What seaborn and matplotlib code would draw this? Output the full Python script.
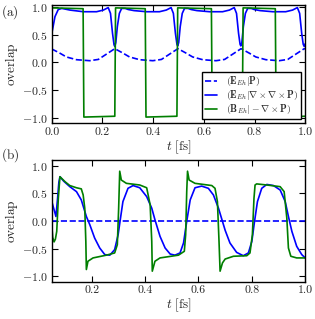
import matplotlib
matplotlib.use("Agg")
import matplotlib.pyplot as plt
import seaborn as sns

# ---- panel (a) data ----
t_a_dash = [0.000, 0.030, 0.058, 0.098, 0.150, 0.184, 0.209, 0.229, 0.249,
            0.279, 0.307, 0.347, 0.399, 0.433, 0.458, 0.478, 0.498,
            0.528, 0.556, 0.596, 0.648, 0.682, 0.707, 0.727, 0.747,
            0.777, 0.805, 0.845, 0.897, 0.931, 0.956, 0.976, 0.996, 1.000]
ov_a_dash = [0.245, 0.175, 0.10, 0.05, 0.032, 0.055, 0.13, 0.19, 0.25,
             0.175, 0.10, 0.05, 0.032, 0.055, 0.13, 0.19, 0.25,
             0.175, 0.10, 0.05, 0.032, 0.055, 0.13, 0.19, 0.25,
             0.175, 0.10, 0.05, 0.032, 0.055, 0.13, 0.19, 0.25, 0.245]

t_a_curl = [0.000, 0.013, 0.026, 0.040, 0.072, 0.125, 0.177, 0.204, 0.223,
            0.232, 0.240, 0.246, 0.249, 0.253, 0.259, 0.267, 0.276, 0.290,
            0.302, 0.325, 0.375, 0.425, 0.452, 0.471, 0.480, 0.488, 0.494,
            0.497, 0.501, 0.507, 0.515, 0.524, 0.538, 0.550, 0.573, 0.623,
            0.674, 0.701, 0.720, 0.729, 0.737, 0.743, 0.746, 0.750, 0.756,
            0.764, 0.773, 0.787, 0.799, 0.822, 0.872, 0.923, 0.950, 0.969,
            0.978, 0.986, 0.992, 0.996, 1.000]
ov_a_curl = [0.51, 0.83, 0.96, 0.98, 0.95, 0.92, 0.92, 0.95, 0.995,
             0.89, 0.53, 0.32, 0.29, 0.36, 0.65, 0.89, 0.98, 0.98,
             0.96, 0.94, 0.92, 0.92, 0.95, 0.995, 0.89, 0.53, 0.33,
             0.30, 0.36, 0.65, 0.89, 0.98, 0.98, 0.96, 0.94, 0.92,
             0.92, 0.95, 0.995, 0.89, 0.53, 0.33, 0.30, 0.36, 0.65,
             0.89, 0.98, 0.98, 0.96, 0.94, 0.92, 0.92, 0.95, 0.995,
             0.89, 0.53, 0.33, 0.29, 0.34]

t_a_B = [0.000, 0.124, 0.127, 0.249, 0.252, 0.369, 0.372, 0.494, 0.497,
         0.630, 0.633, 0.752, 0.755, 0.882, 0.885, 1.000]
ov_a_B = [0.99, 0.975, -0.99, -0.975, 0.99, 0.975, -0.99, -0.975, 0.99,
          0.975, -0.99, -0.975, 0.99, 0.975, -0.99, -0.975]

# ---- panel (b) data ----
t_b_dash = [0.05, 1.0]
ov_b_dash = [0.0, 0.0]

t_b_curl = [0.050, 0.058, 0.066, 0.072, 0.077, 0.081, 0.095, 0.118, 0.143,
            0.161, 0.180, 0.193, 0.211, 0.230, 0.249, 0.268, 0.286, 0.299,
            0.307, 0.317, 0.336, 0.355, 0.380, 0.406, 0.425, 0.437, 0.456,
            0.475, 0.494, 0.512, 0.531, 0.544, 0.556, 0.569, 0.587, 0.612,
            0.637, 0.656, 0.675, 0.690, 0.700, 0.718, 0.743, 0.768, 0.787,
            0.800, 0.810, 0.821, 0.837, 0.856, 0.881, 0.906, 0.925, 0.937,
            0.950, 0.968, 0.987, 1.000]
ov_b_curl = [0.36, 0.22, 0.08, 0.40, 0.70, 0.80, 0.72, 0.62, 0.53,
             0.38, 0.08, -0.07, -0.31, -0.49, -0.61, -0.62, -0.52, -0.25,
             0.02, 0.35, 0.59, 0.64, 0.60, 0.44, 0.23, 0.02, -0.28,
             -0.49, -0.60, -0.62, -0.58, -0.40, -0.01, 0.38, 0.60, 0.63,
             0.59, 0.47, 0.23, -0.01, -0.17, -0.40, -0.57, -0.63, -0.58,
             -0.37, -0.01, 0.35, 0.59, 0.66, 0.64, 0.56, 0.35, 0.08,
             -0.19, -0.46, -0.61, -0.67]

t_b_B = [0.050, 0.054, 0.059, 0.064, 0.069, 0.075, 0.081, 0.100, 0.118,
         0.143, 0.161, 0.168, 0.174, 0.178, 0.180, 0.186, 0.205, 0.255,
         0.286, 0.296, 0.301, 0.305, 0.311, 0.330, 0.380, 0.406, 0.419,
         0.425, 0.427, 0.437, 0.456, 0.525, 0.547, 0.552, 0.556, 0.559,
         0.565, 0.587, 0.650, 0.662, 0.671, 0.677, 0.681, 0.690, 0.700,
         0.731, 0.781, 0.793, 0.802, 0.808, 0.812, 0.818, 0.856, 0.906,
         0.921, 0.931, 0.937, 0.946, 0.968, 1.000]
ov_b_B = [-0.05, -0.30, -0.38, -0.33, -0.19, 0.41, 0.80, 0.71, 0.64,
          0.60, 0.58, 0.47, 0.23, -0.37, -0.88, -0.73, -0.67, -0.62,
          -0.58, -0.43, 0.23, 0.90, 0.74, 0.68, 0.65, 0.60, 0.29,
          -0.37, -0.91, -0.73, -0.67, -0.62, -0.55, -0.25, 0.53, 0.90,
          0.74, 0.68, 0.64, 0.59, 0.35, -0.37, -0.91, -0.76, -0.69,
          -0.64, -0.63, -0.58, -0.25, 0.41, 0.65, 0.67, 0.65, 0.62,
          0.53, 0.05, -0.49, -0.64, -0.67, -0.67]

labels = [r"$(\mathbf{E}_{Eh}|\mathbf{P})$",
          r"$(\mathbf{E}_{Eh}|\nabla\times\nabla\times\mathbf{P})$",
          r"$(\mathbf{B}_{Eh}|-\nabla\times\mathbf{P})$"]
xticks_a = [0.0, 0.2, 0.4, 0.6, 0.8, 1.0]
xticks_b = [0.2, 0.4, 0.6, 0.8, 1.0]
yticks = [-1.0, -0.5, 0.0, 0.5, 1.0]

BLUE = "#0000ff"
GREEN = "#007f00"

sns.set_style("ticks")
plt.rcParams["font.family"] = "serif"
plt.rcParams["font.serif"] = ["cmr10", "DejaVu Serif"]
plt.rcParams["mathtext.fontset"] = "cm"
plt.rcParams["axes.formatter.use_mathtext"] = True
plt.rcParams["axes.unicode_minus"] = True

fig = plt.figure(figsize=(3.15, 3.19), dpi=100)
ax_a = fig.add_axes([0.164, 0.614, 0.805, 0.370])
ax_b = fig.add_axes([0.164, 0.117, 0.805, 0.381])

# (a)
sns.lineplot(x=t_a_dash, y=ov_a_dash, ax=ax_a, color=BLUE, lw=1.2,
             linestyle="--", label=labels[0])
sns.lineplot(x=t_a_curl, y=ov_a_curl, ax=ax_a, color=BLUE, lw=1.2,
             label=labels[1])
sns.lineplot(x=t_a_B, y=ov_a_B, ax=ax_a, color=GREEN, lw=1.2,
             label=labels[2])
ax_a.set_xlim(0.0, 1.0)
ax_a.set_ylim(-1.1, 1.04)
ax_a.set_xticks(xticks_a)

# (b)
sns.lineplot(x=t_b_dash, y=ov_b_dash, ax=ax_b, color=BLUE, lw=1.2,
             linestyle="--")
sns.lineplot(x=t_b_curl, y=ov_b_curl, ax=ax_b, color=BLUE, lw=1.2)
sns.lineplot(x=t_b_B, y=ov_b_B, ax=ax_b, color=GREEN, lw=1.2)
ax_b.set_xlim(0.05, 1.0)
ax_b.set_ylim(-1.1, 1.1)
ax_b.set_xticks(xticks_b)

for ax in (ax_a, ax_b):
    ax.set_yticks(yticks)
    ax.set_xticklabels([f"{v:.1f}" for v in ax.get_xticks()])
    ax.tick_params(direction="in", top=True, right=True, length=4,
                   width=0.8, labelsize=8.5, pad=3, color="black")
    for s in ax.spines.values():
        s.set_linewidth(1.0)
        s.set_color("black")
    ax.set_ylabel(r"$\mathrm{overlap}$", fontsize=9.5, labelpad=1)
    ax.set_xlabel(r"$t\ [\mathrm{fs}]$", fontsize=9.5, labelpad=1)
    ax.grid(False)

leg = ax_a.legend(loc="lower right", fontsize=7, handlelength=1.3,
                  frameon=True, fancybox=False, framealpha=1,
                  borderaxespad=0.45, labelspacing=0.0, borderpad=0.25,
                  handletextpad=0.9)
leg.get_frame().set_edgecolor("black")
leg.get_frame().set_linewidth(1.0)

fig.text(0.003, 0.962, r"$\mathrm{(a)}$", fontsize=9.5, va="center")
fig.text(0.003, 0.515, r"$\mathrm{(b)}$", fontsize=9.5, va="center")

fig.savefig("out.png", dpi=100)
